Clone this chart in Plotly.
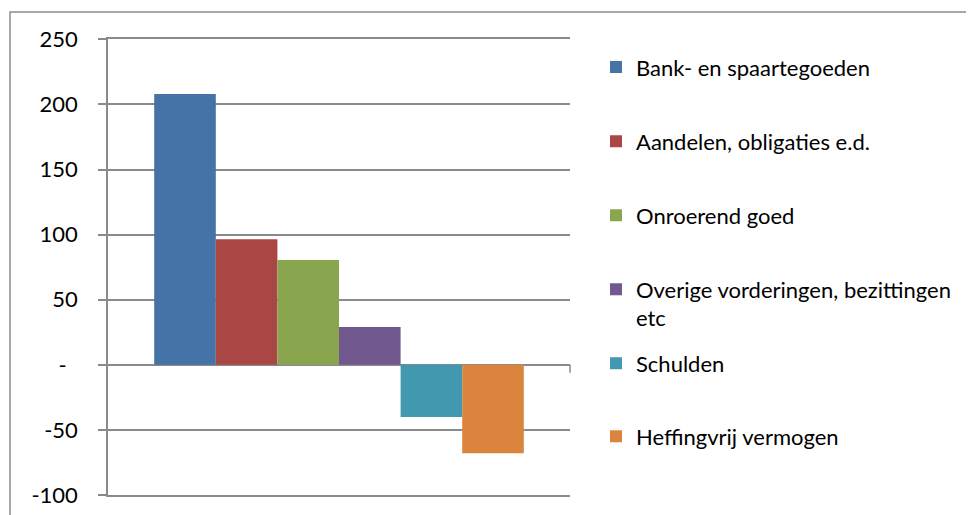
import plotly.graph_objects as go

W, H = 974, 515
OFF = 8  # page body margin added by the browser

def px_x(x):
    return (x - OFF) / W

def px_y(y):
    return 1 - (y - OFF) / H

categories = [""]
series_names = [
    "Bank- en spaartegoeden",
    "Aandelen, obligaties e.d.",
    "Onroerend goed",
    "Overige vorderingen, bezittingen<br>etc",
    "Schulden",
    "Heffingvrij vermogen",
]
series_values = [208, 96.5, 80.5, 29, -40, -68]
colors = ["#4572A7", "#AA4643", "#89A54E", "#71588F", "#4198AF", "#DB843D"]

y_tickvals = [-100, -50, 0, 50, 100, 150, 200, 250]
y_ticktext = ["-100", "-50", "-\u00a0\u00a0", "50", "100", "150", "200", "250"]

FONT = "Lato"
GRID = "#8A8A8A"

# legend item centres (screen pixels from top)
legend_centres = [67.7, 142, 216, 290, 364, 437]

fig = go.Figure()
for i, (name, val, col) in enumerate(zip(series_names, series_values, colors)):
    lname = "legend" if i == 0 else f"legend{i+1}"
    fig.add_trace(go.Bar(
        x=categories, y=[val], name=name,
        marker=dict(color=col, line=dict(width=0)),
        legend=lname, hoverinfo="name+y",
    ))

layout_legends = {}
for i, c in enumerate(legend_centres):
    lname = "legend" if i == 0 else f"legend{i+1}"
    layout_legends[lname] = dict(
        x=px_x(596), xanchor="left",
        y=px_y(c - 21.5), yanchor="top",
        valign="top",
        font=dict(family=FONT, size=22, color="#000000"),
        bgcolor="rgba(0,0,0,0)", borderwidth=0,
        itemclick=False, itemdoubleclick=False,
    )

fig.update_layout(
    width=W, height=H,
    margin=dict(l=0, r=0, t=0, b=0),
    paper_bgcolor="white", plot_bgcolor="white",
    barmode="group", bargap=0.2, bargroupgap=0,
    showlegend=True,
    font=dict(family=FONT, color="#000000"),
    **layout_legends,
)

fig.update_xaxes(
    domain=[px_x(108), px_x(570)],
    showgrid=False, zeroline=False,
    showline=True, mirror=True, linecolor=GRID, linewidth=1.5,
    showticklabels=False, ticks="", automargin=False,
)
fig.update_yaxes(
    domain=[px_y(495), px_y(39.3)],
    range=[-100, 250],
    tickvals=y_tickvals, ticktext=y_ticktext,
    showgrid=True, gridcolor=GRID, gridwidth=1.5,
    zeroline=True, zerolinecolor=GRID, zerolinewidth=1.5,
    showline=True, linecolor=GRID, linewidth=1.5,
    ticks="outside", ticklen=8, tickcolor=GRID, tickwidth=1.5,
    ticklabelstandoff=16,
    tickfont=dict(family=FONT, size=22, color="#000000"),
    automargin=False, fixedrange=True,
)

# category-axis tick mark at the right end of the zero line
fig.add_shape(type="line", xref="x domain", yref="y",
              x0=1, x1=1, y0=0, y1=-8, ysizemode="pixel", yanchor=0,
              line=dict(color=GRID, width=1.5))

# outer chart border
fig.add_shape(type="rect", xref="paper", yref="paper",
              x0=px_x(10), x1=1.05, y0=-0.05, y1=px_y(12),
              line=dict(color="#8C8C8C", width=1.5), fillcolor="rgba(0,0,0,0)",
              layer="below")

fig.write_html("out.html")
